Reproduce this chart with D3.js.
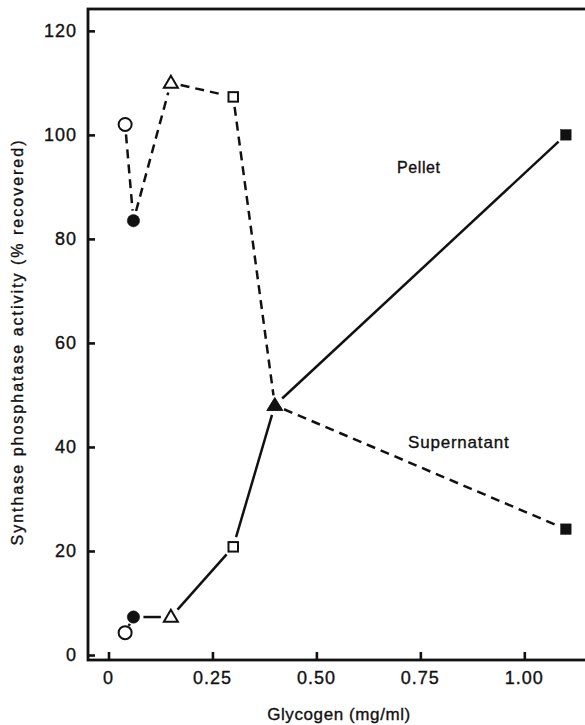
<!DOCTYPE html>
<html>
<head>
<meta charset="utf-8">
<script src="https://cdn.jsdelivr.net/npm/d3@7"></script>
<style>
  html, body { margin: 0; padding: 0; background: #fff; }
  svg { display: block; font-family: "Liberation Sans", Arial, sans-serif; }
  svg text { stroke: #111; stroke-width: 0.35px; }
</style>
</head>
<body>
<svg id="chart" width="585" height="725"></svg>
<script>
(function () {
  'use strict';

  // glycogen concentration (mg/ml), one per marker
  const GLYCOGEN = [0.04, 0.06, 0.15, 0.30, 0.40, 1.10];
  // marker symbol for each concentration
  const MARKERS = ['circle-open', 'circle-filled', 'triangle-open', 'square-open', 'triangle-filled', 'square-filled'];
  // % recovered activity
  const SUPERNATANT = [102, 83.5, 110, 107.3, 48, 24.2];
  const PELLET = [4.3, 7.3, 7.3, 20.8, 48, 100];

  const X_TICKS = [0, 0.25, 0.5, 0.75, 1.0];
  const X_TICK_LABELS = ['0', '0.25', '0.50', '0.75', '1.00'];
  const Y_TICKS = [0, 20, 40, 60, 80, 100, 120];

  const svg = d3.select('#chart');

  const x = d3.scaleLinear().domain([-0.0493, 1.158]).range([88, 590]);
  const y = d3.scaleLinear().domain([-0.96, 124.2]).range([660, 9]);

  const ink = '#111';

  // frame (right side falls outside the picture)
  svg.append('rect')
    .attr('x', x.range()[0]).attr('y', y.range()[1])
    .attr('width', x.range()[1] - x.range()[0])
    .attr('height', y.range()[0] - y.range()[1])
    .attr('fill', 'none').attr('stroke', ink).attr('stroke-width', 2.8);

  // y ticks, pointing inward
  const yAxis = svg.append('g').attr('transform', `translate(${x.range()[0]},0)`)
    .call(d3.axisRight(y).tickValues(Y_TICKS).tickSize(7).tickFormat(''));
  yAxis.select('.domain').remove();
  yAxis.selectAll('line').attr('stroke', ink).attr('stroke-width', 2.6);

  svg.append('g').selectAll('text')
    .data(Y_TICKS)
    .join('text')
    .attr('x', 77).attr('y', d => y(d)).attr('dy', '0.36em')
    .attr('text-anchor', 'end')
    .attr('font-size', 18).attr('letter-spacing', 1)
    .attr('fill', ink)
    .text(d => d);

  // x ticks, pointing inward
  const xAxis = svg.append('g').attr('transform', `translate(0,${y.range()[0]})`)
    .call(d3.axisTop(x).tickValues(X_TICKS).tickSize(8).tickFormat(''));
  xAxis.select('.domain').remove();
  xAxis.selectAll('line').attr('stroke', ink).attr('stroke-width', 2.6);

  svg.append('g').selectAll('text')
    .data(X_TICKS)
    .join('text')
    .attr('x', d => x(d)).attr('y', 684)
    .attr('text-anchor', 'middle')
    .attr('font-size', 18).attr('letter-spacing', 1)
    .attr('fill', ink)
    .text((d, i) => X_TICK_LABELS[i]);

  // axis titles
  svg.append('text')
    .attr('x', 339).attr('y', 720)
    .attr('text-anchor', 'middle')
    .attr('font-size', 17).attr('letter-spacing', 0.6)
    .attr('fill', ink)
    .text('Glycogen (mg/ml)');

  svg.append('text')
    .attr('transform', 'translate(23,343) rotate(-90)')
    .attr('text-anchor', 'middle')
    .attr('font-size', 16)
    .attr('textLength', 405).attr('lengthAdjust', 'spacing')
    .attr('fill', ink)
    .text('Synthase phosphatase activity (% recovered)');

  // connecting lines, stopped short of each marker
  const GAP = 10;
  function drawSeries(values, dash) {
    const pts = GLYCOGEN.map((g, i) => [x(g), y(values[i])]);
    const segs = d3.pairs(pts).map(([a, b]) => {
      const dx = b[0] - a[0], dy = b[1] - a[1];
      const len = Math.hypot(dx, dy);
      const ux = dx / len, uy = dy / len;
      return [[a[0] + ux * GAP, a[1] + uy * GAP], [b[0] - ux * GAP, b[1] - uy * GAP]];
    }).filter(s => Math.hypot(s[1][0] - s[0][0], s[1][1] - s[0][1]) > 1);
    svg.append('g').selectAll('path')
      .data(segs)
      .join('path')
      .attr('d', d3.line())
      .attr('fill', 'none')
      .attr('stroke', ink)
      .attr('stroke-width', 2.5)
      .attr('stroke-dasharray', dash);
  }
  drawSeries(SUPERNATANT, '9,6');
  drawSeries(PELLET, null);

  // markers
  function drawMarkers(values) {
    const g = svg.append('g');
    GLYCOGEN.forEach((gv, i) => {
      const cx = x(gv), cy = y(values[i]);
      const kind = MARKERS[i];
      const filled = kind.endsWith('filled');
      let shape;
      if (kind.startsWith('circle')) {
        shape = g.append('circle').attr('cx', cx).attr('cy', cy).attr('r', filled ? 6.2 : 6.5);
      } else if (kind.startsWith('square')) {
        const s = filled ? 10.5 : 9.5;
        shape = g.append('rect').attr('x', cx - s / 2).attr('y', cy - s / 2).attr('width', s).attr('height', s);
      } else {
        const w = filled ? 16 : 14, h = filled ? 13 : 12;
        shape = g.append('path')
          .attr('d', `M${cx},${cy - h * 0.6}L${cx + w / 2},${cy + h * 0.4}L${cx - w / 2},${cy + h * 0.4}Z`);
      }
      shape.attr('fill', filled ? ink : '#fff')
        .attr('stroke', ink)
        .attr('stroke-width', filled ? 0.5 : 2);
    });
  }
  drawMarkers(SUPERNATANT);
  drawMarkers(PELLET);

  // series labels
  svg.append('text')
    .attr('x', 397).attr('y', 173)
    .attr('font-size', 16).attr('letter-spacing', 0.6)
    .attr('fill', ink)
    .text('Pellet');

  svg.append('text')
    .attr('x', 408).attr('y', 448)
    .attr('font-size', 17).attr('letter-spacing', 0.8)
    .attr('fill', ink)
    .text('Supernatant');
})();
</script>
</body>
</html>
